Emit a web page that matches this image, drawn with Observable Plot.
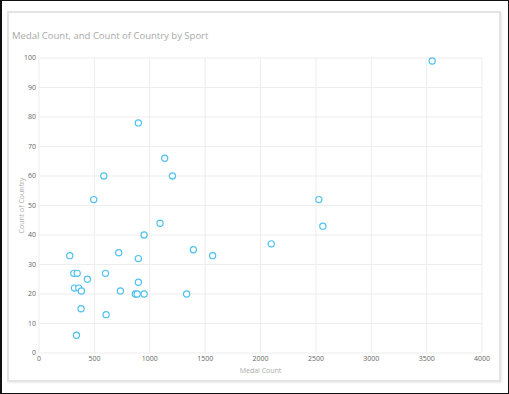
<!DOCTYPE html>
<html><head><meta charset="utf-8">
<script src="https://cdn.jsdelivr.net/npm/d3@7"></script>
<script src="https://cdn.jsdelivr.net/npm/@observablehq/plot@0.6"></script>
<style>
body{margin:0;background:#fff;}
#frame{position:relative;width:509px;height:394px;overflow:hidden;background:#fff;}
#outer{position:absolute;left:0;top:0;width:509px;height:394px;box-sizing:border-box;border:1px solid #111;border-left-width:2px;}
#card{position:absolute;left:7px;top:11px;width:494px;height:371px;box-sizing:border-box;border:2px solid #e4e4e4;box-shadow:1px 1px 2px rgba(0,0,0,0.08);}
#title{position:absolute;left:12px;top:29px;font-family:"Open Sans",sans-serif;font-size:9.5px;color:#a8a8a8;white-space:nowrap;}
#chart{position:absolute;left:0;top:0;}
</style>
</head><body>
<div id="frame">
  <div id="outer"></div>
  <div id="card"></div>
  <div id="title">Medal Count, and Count of Country by Sport</div>
  <div id="chart"></div>
</div>
<script>
const medalCount   = [3550, 897, 1135, 1205, 585, 494, 2527, 2563, 1093, 949, 2097, 1394, 720, 1568, 278, 897, 314, 345, 600, 437, 897, 320, 359, 383, 735, 870, 886, 949, 1333, 380, 606, 338];
const countryCount = [99,   78,  66,   60,   60,  52,  52,   43,   44,   40,  37,   35,   34,  33,   33,  32,  27,  27,  27,  25,  24,  22,  22,  21,  21,  20,  20,  20,  20,   15,  13,  6];
const xTicks = [0, 500, 1000, 1500, 2000, 2500, 3000, 3500, 4000];
const yTicks = [0, 10, 20, 30, 40, 50, 60, 70, 80, 90, 100];

const data = medalCount.map((m, i) => ({medal: m, country: countryCount[i]}));

const chart = Plot.plot({
  width: 509,
  height: 394,
  marginLeft: 38.5,
  marginRight: 27.5,
  marginTop: 57.5,
  marginBottom: 41.5,
  style: {fontFamily: "'Open Sans', sans-serif", fontSize: "7px", color: "#666", background: "transparent"},
  x: {domain: [0, 4000], label: null},
  y: {domain: [0, 100], label: null},
  marks: [
    Plot.gridX(xTicks, {stroke: "#ededed", strokeOpacity: 1, strokeWidth: 1}),
    Plot.gridY(yTicks, {stroke: "#ededed", strokeOpacity: 1, strokeWidth: 1}),
    Plot.axisX(xTicks, {tickSize: 0, tickPadding: 3, tickFormat: d => String(d), label: null, fill: "#666"}),
    Plot.axisY(yTicks, {tickSize: 0, tickPadding: 3, tickFormat: d => String(d), label: null, fill: "#666"}),
    Plot.axisX([], {tickSize: 0, label: "Medal Count", labelAnchor: "center", labelArrow: "none", labelOffset: 20, fill: "#aaa"}),
    Plot.axisY([], {tickSize: 0, label: "Count of Country", labelAnchor: "center", labelArrow: "none", labelOffset: 20, fill: "#aaa"}),
    Plot.dot(data, {x: "medal", y: "country", r: 3.1, stroke: "#4fc1ee", strokeWidth: 1.2, fill: "white"})
  ]
});
document.getElementById("chart").appendChild(chart);
</script>
</body></html>
